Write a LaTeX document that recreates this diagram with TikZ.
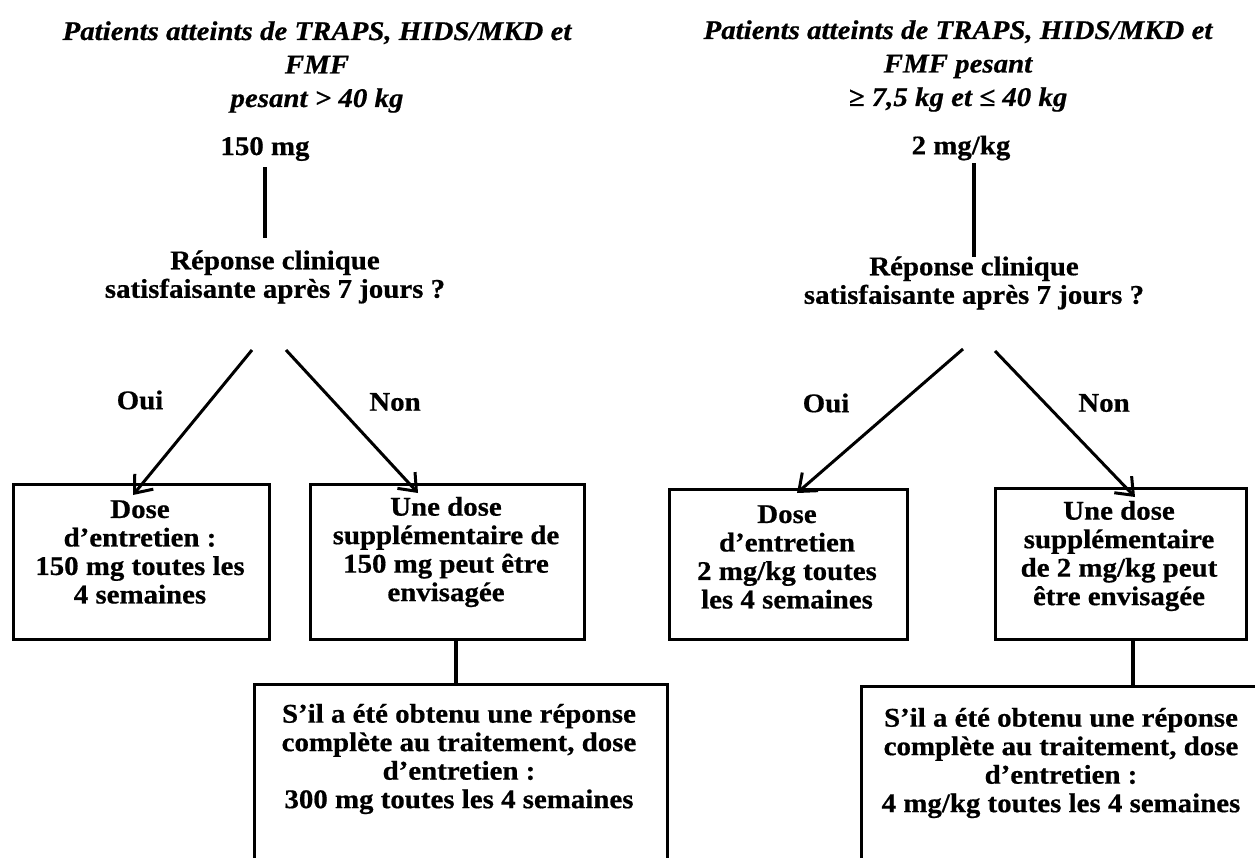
\documentclass[tikz,border=0pt]{standalone}
\usepackage{fontspec}
\setmainfont{Liberation Serif}[FakeStretch=1.07, BoldFeatures={FakeBold=0.6}, BoldItalicFeatures={FakeBold=0.6}]
\usetikzlibrary{arrows.meta,calc}
\newcommand\dgbody{\fontsize{27}{28.5}\selectfont\bfseries}
\newcommand\dgtitle{\fontsize{27}{33.5}\selectfont\bfseries\itshape}
\tikzset{
  txt/.style={font=\dgbody, align=center, inner sep=0pt},
  ttl/.style={font=\dgtitle, align=center, inner sep=0pt},
  box/.style={draw, line width=3pt, inner sep=0pt, anchor=north west},
  arr/.style={line width=3pt, -{Straight Barb[length=15pt,width=24pt]}},
  link/.style={line width=4pt},
}
\begin{document}
\begin{tikzpicture}[x=1pt,y=-1pt]
\useasboundingbox (0,0) rectangle (1255,857);

% ---------------- left column ----------------
\node[ttl] (ttlL) at (317,67) {Patients atteints de TRAPS, HIDS/MKD et\\FMF\\pesant > 40 kg};
\node[txt] (dL) at (265,149) {150 mg};
\node[txt] (qL) at (275,277) {Réponse clinique\\satisfaisante après 7 jours ?};
\node[txt] (ouiL) at (140,400) {Oui};
\node[txt] (nonL) at (395,402) {Non};

\node[box, minimum width=256pt, minimum height=155pt] (b1) at (12,483) {};
\node[box, minimum width=274pt, minimum height=155pt] (b2) at (309,483) {};
\node[box, minimum width=413pt, minimum height=260pt] (b3) at (253,683) {};

\node[txt] (t1) at (140,552) {Dose\\d’entretien :\\150 mg toutes les\\4 semaines};
\node[txt] (t2) at (446,552) {Une dose\\supplémentaire de\\150 mg peut être\\envisagée};
\node[txt] (t3) at (459,759) {S’il a été obtenu une réponse\\complète au traitement, dose\\d’entretien :\\300 mg toutes les 4 semaines};

\coordinate (sL1) at (252,350);
\coordinate (sL2) at (286,350);
\coordinate (xL) at (456,0);

\draw[link] (dL.south |- 0,167) -- (dL.south |- 0,238);
\draw[arr] (sL1) -- ($(b1.north west)+(121,12)$);
\draw[arr] (sL2) -- ($(b2.north west)+(109,10)$);
\draw[link] (b2.south -| xL) -- (b3.north -| xL);

% ---------------- right column ----------------
\node[ttl] (ttlR) at (958,66) {Patients atteints de TRAPS, HIDS/MKD et\\FMF pesant\\≥ 7,5 kg et ≤ 40 kg};
\node[txt] (dR) at (961,148) {2 mg/kg};
\node[txt] (qR) at (974,283) {Réponse clinique\\satisfaisante après 7 jours ?};
\node[txt] (ouiR) at (826,403) {Oui};
\node[txt] (nonR) at (1104,403) {Non};

\node[box, minimum width=238pt, minimum height=150pt] (b4) at (668,488) {};
\node[box, minimum width=251pt, minimum height=151pt] (b5) at (994,487) {};
\node[box, minimum width=450pt, minimum height=260pt] (b6) at (860,685) {};

\node[txt] (t4) at (787,557) {Dose\\d’entretien\\2 mg/kg toutes\\les 4 semaines};
\node[txt] (t5) at (1119,556) {Une dose\\supplémentaire\\de 2 mg/kg peut\\être envisagée};
\node[txt] (t6) at (1061,763) {S’il a été obtenu une réponse\\complète au traitement, dose\\d’entretien :\\4 mg/kg toutes les 4 semaines};

\coordinate (sR1) at (963,349);
\coordinate (sR2) at (995,351);
\coordinate (xR) at (1133,0);

\draw[link] (qR.north |- 0,163) -- (qR.north |- 0,257);
\draw[arr] (sR1) -- ($(b4.north west)+(129,5)$);
\draw[arr] (sR2) -- ($(b5.north west)+(141,10)$);
\draw[link] (b5.south -| xR) -- (b6.north -| xR);
\end{tikzpicture}
\end{document}
